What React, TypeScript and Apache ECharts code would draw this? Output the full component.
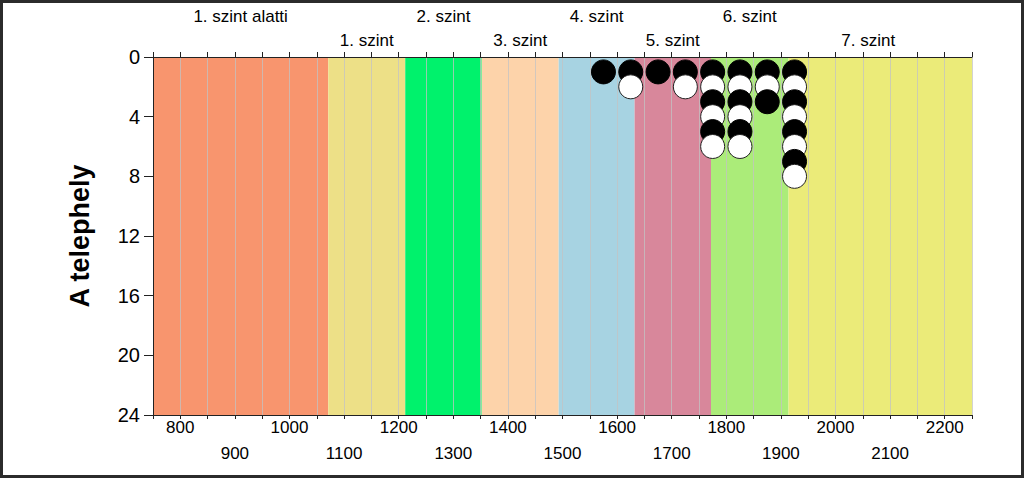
import React, { useEffect, useRef } from "react";
import * as echarts from "echarts";

const FONT = '"Liberation Sans", Arial, Helvetica, sans-serif';

// Levels (bands along the x axis)
const bandNames = ["1. szint alatti", "1. szint", "2. szint", "3. szint", "4. szint", "5. szint", "6. szint", "7. szint"];
const bandStart = [750, 1071, 1212, 1352, 1493, 1632, 1772, 1914];
const bandEnd = [1071, 1212, 1352, 1493, 1632, 1772, 1914, 2250];
const bandColors = ["#F8956E", "#EDE087", "#00F26C", "#FDD3AA", "#A7D3E2", "#D8879B", "#ABEC79", "#EBEB79"];

// Dots: x value, y value (row), shade (B = black, W = white)
const dotX = [
  1575,
  1625, 1625,
  1675,
  1725, 1725,
  1775, 1775, 1775, 1775, 1775, 1775,
  1825, 1825, 1825, 1825, 1825, 1825,
  1875, 1875, 1875,
  1925, 1925, 1925, 1925, 1925, 1925, 1925, 1925,
];
const dotY = [
  1,
  1, 2,
  1,
  1, 2,
  1, 2, 3, 4, 5, 6,
  1, 2, 3, 4, 5, 6,
  1, 2, 3,
  1, 2, 3, 4, 5, 6, 7, 8,
];
const dotShade = [
  "B",
  "B", "W",
  "B",
  "B", "W",
  "B", "W", "B", "W", "B", "W",
  "B", "W", "B", "W", "B", "W",
  "B", "W", "B",
  "B", "W", "B", "W", "B", "W", "B", "W",
];

const yTicks = [0, 4, 8, 12, 16, 20, 24];

export default function App() {
  const ref = useRef<HTMLDivElement>(null);

  useEffect(() => {
    const chart = echarts.init(ref.current as HTMLDivElement, null, { renderer: "svg" });

    const xCommon = {
      type: "value" as const,
      min: 750,
      max: 2250,
      interval: 50,
      z: 2,
    };

    const option: any = {
      animation: false,
      backgroundColor: "#ffffff",
      grid: { left: 153, right: 52, top: 57, bottom: 63 },
      xAxis: [
        {
          ...xCommon,
          position: "bottom",
          axisLine: { show: true, onZero: false, lineStyle: { color: "#222", width: 1 } },
          axisTick: { show: true, length: 4, lineStyle: { color: "#222" } },
          splitLine: { show: true, lineStyle: { color: "rgba(195,195,195,0.75)", width: 1 } },
          axisLabel: {
            margin: 4,
            fontSize: 17,
            color: "#000",
            fontFamily: FONT,
            formatter: (v: number) => (v % 200 === 0 ? String(v) : ""),
          },
        },
        {
          ...xCommon,
          position: "top",
          axisLine: { show: true, onZero: false, lineStyle: { color: "#222", width: 1 } },
          axisTick: { show: true, length: 5, lineStyle: { color: "#222" } },
          splitLine: { show: false },
          axisLabel: { show: false },
        },
        {
          ...xCommon,
          position: "bottom",
          axisLine: { show: false },
          axisTick: { show: false },
          splitLine: { show: false },
          axisLabel: {
            margin: 30,
            fontSize: 17,
            color: "#000",
            fontFamily: FONT,
            formatter: (v: number) => (v % 200 === 100 ? String(v) : ""),
          },
        },
      ],
      yAxis: {
        type: "value",
        inverse: true,
        min: yTicks[0],
        max: yTicks[yTicks.length - 1],
        interval: 4,
        z: 2,
        axisLine: { show: true, onZero: false, lineStyle: { color: "#222", width: 1 } },
        axisTick: { show: true, length: 9, lineStyle: { color: "#222" } },
        splitLine: { show: false },
        axisLabel: { fontSize: 20, margin: 13, color: "#000", fontFamily: FONT },
        name: "A telephely",
        nameLocation: "middle",
        nameGap: 60,
        nameTextStyle: { fontSize: 27, fontWeight: "bold", color: "#000", fontFamily: FONT },
      },
      series: [
        {
          type: "scatter",
          xAxisIndex: 0,
          yAxisIndex: 0,
          data: [],
          z: 1,
          silent: true,
          markArea: {
            silent: true,
            z: 1,
            data: bandNames.map((name, i) => [
              {
                name,
                xAxis: bandStart[i],
                itemStyle: { color: bandColors[i], opacity: 1 },
                label: {
                  show: true,
                  position: "top",
                  distance: i % 2 === 0 ? 32 : 8,
                  offset: i === bandNames.length - 1 ? [-12, 0] : [0, 0],
                  color: "#000",
                  fontSize: 17,
                  fontFamily: FONT,
                },
              },
              { xAxis: bandEnd[i] },
            ]),
          },
        },
        {
          type: "scatter",
          xAxisIndex: 0,
          yAxisIndex: 0,
          z: 3,
          symbol: "circle",
          symbolSize: 24,
          data: dotX.map((x, i) => ({
            value: [x, dotY[i]],
            itemStyle:
              dotShade[i] === "B"
                ? { color: "#000", borderColor: "#000", borderWidth: 1, opacity: 1 }
                : { color: "#fff", borderColor: "#222", borderWidth: 1, opacity: 1 },
          })),
        },
      ],
      graphic: [
        {
          type: "rect",
          z: 100,
          silent: true,
          shape: { x: 1.5, y: 1.5, width: 1021, height: 475 },
          style: { fill: "none", stroke: "#2b2b2b", lineWidth: 3 },
        },
      ],
    };

    chart.setOption(option);
    return () => chart.dispose();
  }, []);

  return (
    <div
      ref={ref}
      style={{ position: "absolute", left: 0, top: 0, width: 1024, height: 478 }}
    />
  );
}
